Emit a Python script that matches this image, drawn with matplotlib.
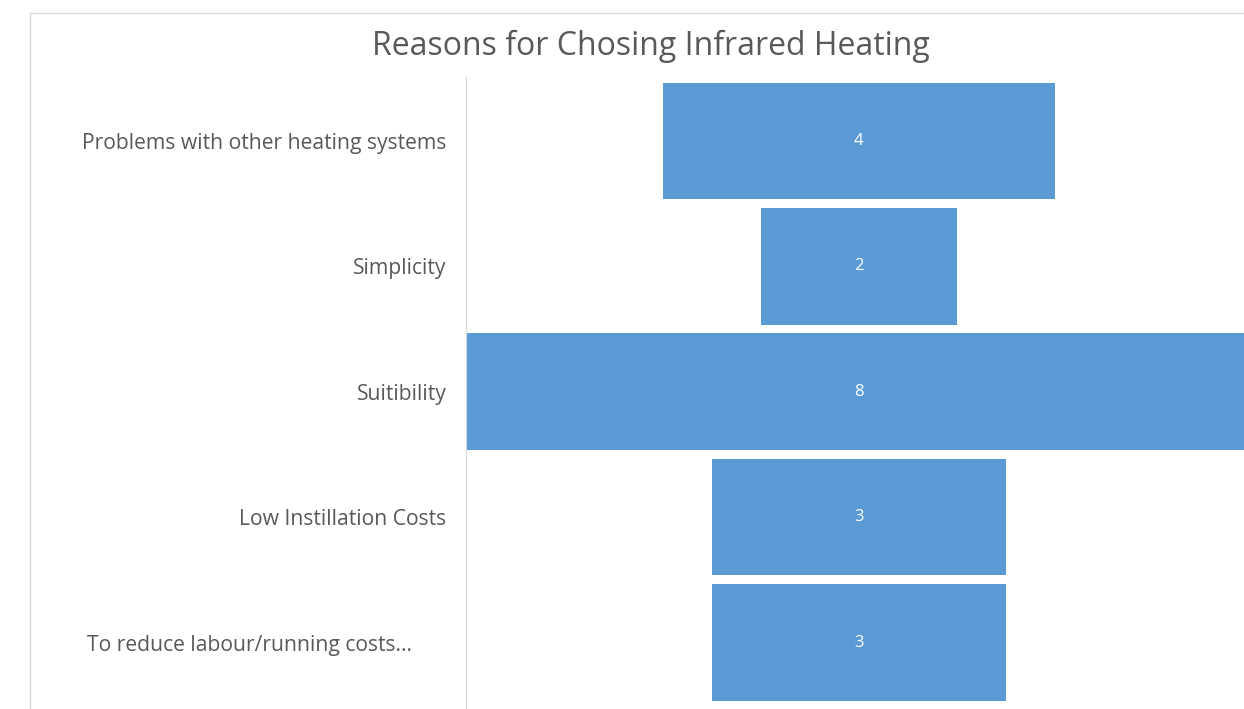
import matplotlib.pyplot as plt
from matplotlib.lines import Line2D

categories = ["Problems with other heating systems", "Simplicity", "Suitibility",
              "Low Instillation Costs", "To reduce labour/running costs..."]
counts = [4, 2, 8, 3, 3]

W, H = 1244, 709
fig = plt.figure(figsize=(W / 100, H / 100), dpi=100)
plt.rcParams['font.family'] = ['Open Sans', 'DejaVu Sans']

# chart frame (clipped by the image on right/bottom)
fig.add_artist(Line2D([30 / W, 30 / W], [0, 1 - 13 / H], color='#d9d9d9', lw=1))
fig.add_artist(Line2D([30 / W, 1], [1 - 13 / H, 1 - 13 / H], color='#d9d9d9', lw=1))

ax = fig.add_axes([466 / W, 0, 1 - 466 / W, (709 - 77) / H])
ypos = list(range(len(categories)))
lefts = [-c / 2 for c in counts]
ax.barh(ypos, counts, left=lefts, height=0.93, color='#5b9bd5')
for y, c in zip(ypos, counts):
    ax.text(0, y, str(c), color='white', ha='center', va='center', fontsize=12)

ax.set_xlim(-4.01, 3.93)
ax.set_ylim(4.53, -0.51)
ax.set_xticks([])
ax.set_yticks(ypos)
ax.set_yticklabels(categories, color='#595959', fontsize=15.2)
ax.tick_params(axis='y', length=0, pad=14)
for s in ['top', 'right', 'bottom']:
    ax.spines[s].set_visible(False)
ax.spines['left'].set_color('#d9d9d9')

# last label is truncated and centred in the source chart
lab = ax.get_yticklabels()[-1]
lab.set_horizontalalignment('center')
lab.set_x(-0.253)

fig.text(651 / W, 1 - 46 / H, "Reasons for Chosing Infrared Heating", ha='center', va='center',
         fontsize=23, color='#595959')

fig.savefig('out.png', dpi=100)
